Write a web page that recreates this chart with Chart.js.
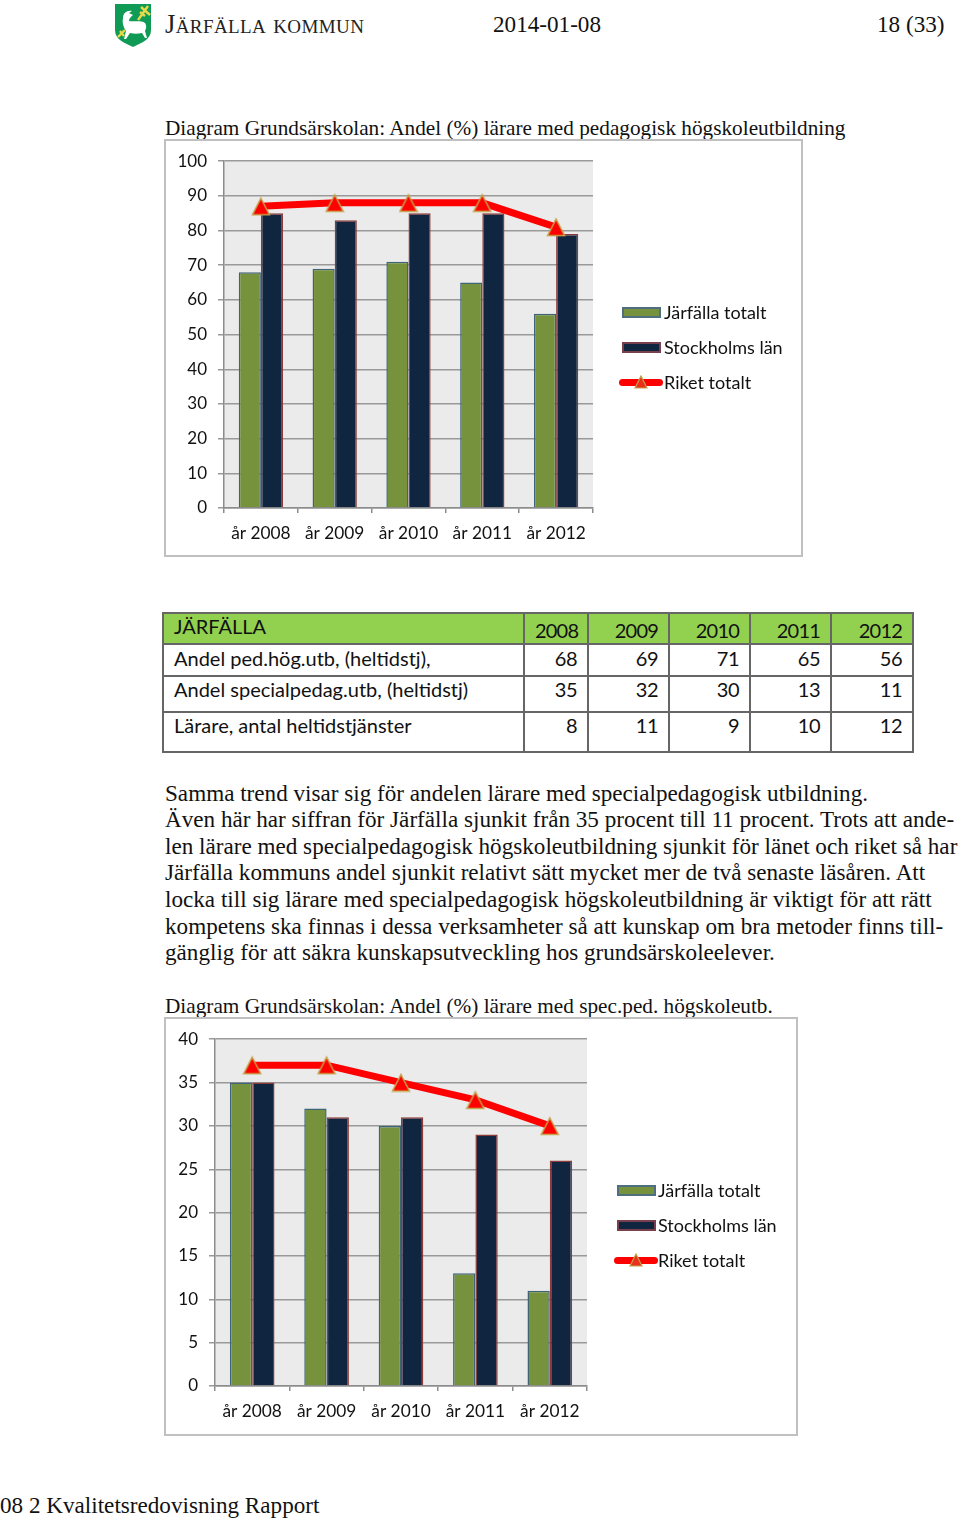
<!DOCTYPE html>
<html lang="sv">
<head>
<meta charset="utf-8">
<title>Kvalitetsredovisning</title>
<script src="https://cdn.jsdelivr.net/npm/chart.js@4"></script>
<style>
  html, body { margin: 0; padding: 0; background: #fff; }
  body { position: relative; width: 960px; height: 1520px; overflow: hidden; font-family: "Liberation Serif", serif; color: #111; }
  .t { position: absolute; white-space: nowrap; font-size: 23.15px; line-height: 26px; }
  .title { font-size: 21.25px; }
  canvas.box { position: absolute; outline: 2px solid #c0c0c0; outline-offset: -1px; }
  .leg { position: absolute; font-family: Lato, sans-serif; font-size: 18px; line-height: 22px; white-space: nowrap; color: #111; }
  .sw { position: absolute; box-sizing: border-box; height: 11px; width: 39px; border: 2px solid; }
  .ln { position: absolute; height: 7px; width: 44px; background: #ff0000; border-radius: 4px; }
  table { position: absolute; left: 162px; top: 612px; width: 750px; border-collapse: collapse; table-layout: fixed; font-family: Lato, sans-serif; font-size: 20px; color: #111; }
  td { border: 2px solid #666; padding: 0 10px; overflow: hidden; white-space: nowrap; text-align: right; letter-spacing: -.5px; }
  td:first-child { text-align: left; letter-spacing: 0; }
  tr.head td { background: #92d050; vertical-align: bottom; letter-spacing: -.8px; padding-bottom: 1px; }
  tr.head td:first-child { vertical-align: top; letter-spacing: 0; padding-bottom: 0; }
</style>
</head>
<body>

<svg style="position:absolute;left:114px;top:3px" width="38" height="44" viewBox="0 0 38 44">
  <path d="M1 1H37V27C37 37 27 40 19 44C11 40 1 37 1 27Z" fill="#0f9a55"/>
  <path d="M9 15C9 10 13 7 18 8L15 10L19 12C17 14 15 15 15 18C20 19 27 17 31 20C33 23 32 26 31 28L33 35H31L28 30C24 31 20 31 16 30L12 36H10L12 28C9 24 8 19 9 15Z" fill="#fff"/>
  <path d="M24 17L34 3M27 4L36 12M26 9L31 13M4 34L11 27M6 28L10 33" stroke="#e6d94a" stroke-width="2.4" fill="none"/>
</svg>
<div class="t" style="left:165px;top:11px;font-size:26.6px;color:#222;font-variant:small-caps;letter-spacing:.4px" id="logoText"></div>
<div class="t" style="left:493px;top:11px">2014-01-08</div>
<div class="t" style="left:877px;top:11px">18 (33)</div>

<div class="t title" style="left:165px;top:115px" id="title1"></div>
<canvas class="box" id="chart1" width="637" height="416" style="left:165px;top:140px"></canvas>
<div id="legend1"></div>

<table id="tbl">
  <colgroup><col style="width:361px"><col style="width:64px"><col style="width:81px"><col style="width:81px"><col style="width:81px"><col style="width:82px"></colgroup>
  <tbody id="tblBody"></tbody>
</table>

<div id="para"></div>

<div class="t title" style="left:165px;top:993px" id="title2"></div>
<canvas class="box" id="chart2" width="632" height="417" style="left:165px;top:1018px"></canvas>
<div id="legend2"></div>

<div class="t" style="left:0;top:1492px" id="footer"></div>

<script>
const categories = ['år 2008', 'år 2009', 'år 2010', 'år 2011', 'år 2012'];
const seriesNames = ['Järfälla totalt', 'Stockholms län', 'Riket totalt'];

// diagram 1, pedagogisk högskoleutbildning
const jarfalla1 = [68, 69, 71, 65, 56];
const stockholm1 = [85, 83, 85, 85, 79];
const riket1 = [87, 88, 88, 88, 81];

// diagram 2, spec.ped. högskoleutb.
const jarfalla2 = [35, 32, 30, 13, 11];
const stockholm2 = [35, 31, 31, 29, 26];
const riket2 = [37, 37, 35, 33, 30];

const tableHead = ['JÄRFÄLLA', '2008', '2009', '2010', '2011', '2012'];
const tableRows = [
  ['Andel ped.hög.utb, (heltidstj),', 68, 69, 71, 65, 56],
  ['Andel specialpedag.utb, (heltidstj)', 35, 32, 30, 13, 11],
  ['Lärare, antal heltidstjänster', 8, 11, 9, 10, 12]
];
const rowHeights = [31, 32, 36, 40];
const rowPadBottom = [0, 4, 10, 14];

const paragraph = [
  'Samma trend visar sig för andelen lärare med specialpedagogisk utbildning.',
  'Även här har siffran för Järfälla sjunkit från 35 procent till 11 procent. Trots att ande-',
  'len lärare med specialpedagogisk högskoleutbildning sjunkit för länet och riket så har',
  'Järfälla kommuns andel sjunkit relativt sätt mycket mer de två senaste läsåren. Att',
  'locka till sig lärare med specialpedagogisk högskoleutbildning är viktigt för att rätt',
  'kompetens ska finnas i dessa verksamheter så att kunskap om bra metoder finns till-',
  'gänglig för att säkra kunskapsutveckling hos grundsärskoleelever.'
];
const paraTops = [780, 806, 833, 859, 886, 913, 939];

document.getElementById('logoText').textContent = 'Järfälla kommun';
document.getElementById('title1').textContent = 'Diagram Grundsärskolan: Andel (%) lärare med pedagogisk högskoleutbildning';
document.getElementById('title2').textContent = 'Diagram Grundsärskolan: Andel (%) lärare med spec.ped. högskoleutb.';
document.getElementById('footer').textContent = '08 2 Kvalitetsredovisning Rapport';

paragraph.forEach((line, i) => {
  const d = document.createElement('div');
  d.className = 't';
  d.style.left = '165px';
  d.style.top = paraTops[i] + 'px';
  d.textContent = line;
  document.getElementById('para').appendChild(d);
});

const body = document.getElementById('tblBody');
[tableHead].concat(tableRows).forEach((row, i) => {
  const tr = document.createElement('tr');
  tr.style.height = rowHeights[i] + 'px';
  if (i === 0) tr.className = 'head';
  row.forEach(v => {
    const td = document.createElement('td');
    td.textContent = v;
    if (i > 0) td.style.paddingBottom = rowPadBottom[i] + 'px';
    tr.appendChild(td);
  });
  body.appendChild(tr);
});

const plotBg = {
  id: 'plotBg',
  beforeDraw(chart) {
    const a = chart.chartArea;
    chart.ctx.fillStyle = '#ebebeb';
    chart.ctx.fillRect(a.left, a.top, a.width, a.height);
  }
};

// triangle marker, sits a bit lower on the point than the built-in 'triangle'
function triangleMarker() {
  const c = document.createElement('canvas');
  c.width = 20;
  c.height = 20;
  const g = c.getContext('2d');
  g.beginPath();
  g.moveTo(10, 2);
  g.lineTo(18.5, 18.5);
  g.lineTo(1.5, 18.5);
  g.closePath();
  g.fillStyle = '#ff0000';
  g.fill();
  g.strokeStyle = '#c4a24a';
  g.lineWidth = 1.5;
  g.stroke();
  return c;
}
const marker = triangleMarker();

function makeChart(id, green, navy, red, yMax, yStep, box) {
  new Chart(document.getElementById(id), {
    type: 'bar',
    data: {
      labels: categories,
      datasets: [
        { type: 'line', label: seriesNames[2], data: red, order: 0,
          borderColor: '#ff0000', borderWidth: 7, borderCapStyle: 'round', tension: 0,
          pointStyle: marker, pointRadius: 10 },
        { label: seriesNames[0], data: green, order: 1,
          backgroundColor: '#76923c', borderColor: '#3f6478', borderWidth: 1.5 },
        { label: seriesNames[1], data: navy, order: 1,
          backgroundColor: '#10253f', borderColor: '#8c3a3a', borderWidth: 1.5 }
      ]
    },
    options: {
      responsive: false,
      animation: false,
      categoryPercentage: 0.6,
      barPercentage: 1,
      layout: { padding: { left: 0, top: box.top, right: box.right, bottom: 0 } },
      plugins: { legend: { display: false }, title: { display: false }, tooltip: { enabled: false } },
      scales: {
        x: {
          afterFit: s => { s.height = box.bottom; },
          grid: { drawOnChartArea: false, color: '#8c8c8c', lineWidth: 1.5, tickLength: 5, offset: true },
          border: { color: '#8c8c8c', width: 1.5 },
          ticks: { color: '#111', font: { family: 'Lato', size: 17.3 }, padding: 10, maxRotation: 0, autoSkip: false }
        },
        y: {
          min: 0, max: yMax,
          afterFit: s => { s.width = box.left; },
          grid: { color: '#999', lineWidth: 1.5, tickLength: 6 },
          border: { color: '#8c8c8c', width: 1.5 },
          ticks: { stepSize: yStep, color: '#111', font: { family: 'Lato', size: 17 }, padding: 11 }
        }
      }
    },
    plugins: [plotBg]
  });
}

function makeLegend(id, swatchX, textX, ys) {
  const root = document.getElementById(id);
  const fills = [['#76923c', '#4f6f80'], ['#10253f', '#7a3f4c']];
  seriesNames.forEach((name, i) => {
    if (i < 2) {
      const s = document.createElement('div');
      s.className = 'sw';
      s.style.cssText = `left:${swatchX}px;top:${ys[i] - 5}px;background:${fills[i][0]};border-color:${fills[i][1]}`;
      root.appendChild(s);
    } else {
      const l = document.createElement('div');
      l.className = 'ln';
      l.style.cssText = `left:${swatchX - 3}px;top:${ys[i] - 3}px`;
      root.appendChild(l);
      const m = document.createElementNS('http://www.w3.org/2000/svg', 'svg');
      m.setAttribute('width', '14');
      m.setAttribute('height', '14');
      m.style.cssText = `position:absolute;left:${swatchX + 12}px;top:${ys[i] - 7}px`;
      m.innerHTML = '<path d="M7 1L13 13H1Z" fill="#e8301a" stroke="#c4a24a" stroke-width="1.2"/>';
      root.appendChild(m);
    }
    const d = document.createElement('div');
    d.className = 'leg';
    d.style.cssText = `left:${textX}px;top:${ys[i] - 11}px`;
    d.textContent = name;
    root.appendChild(d);
  });
}

makeChart('chart1', jarfalla1, stockholm1, riket1, 100, 10, { left: 59, top: 20, right: 209, bottom: 48 });
makeChart('chart2', jarfalla2, stockholm2, riket2, 40, 5, { left: 50, top: 20, right: 210, bottom: 49 });
makeLegend('legend1', 622, 664, [312, 347, 382]);
makeLegend('legend2', 617, 658, [1190, 1225, 1260]);
</script>
</body>
</html>
